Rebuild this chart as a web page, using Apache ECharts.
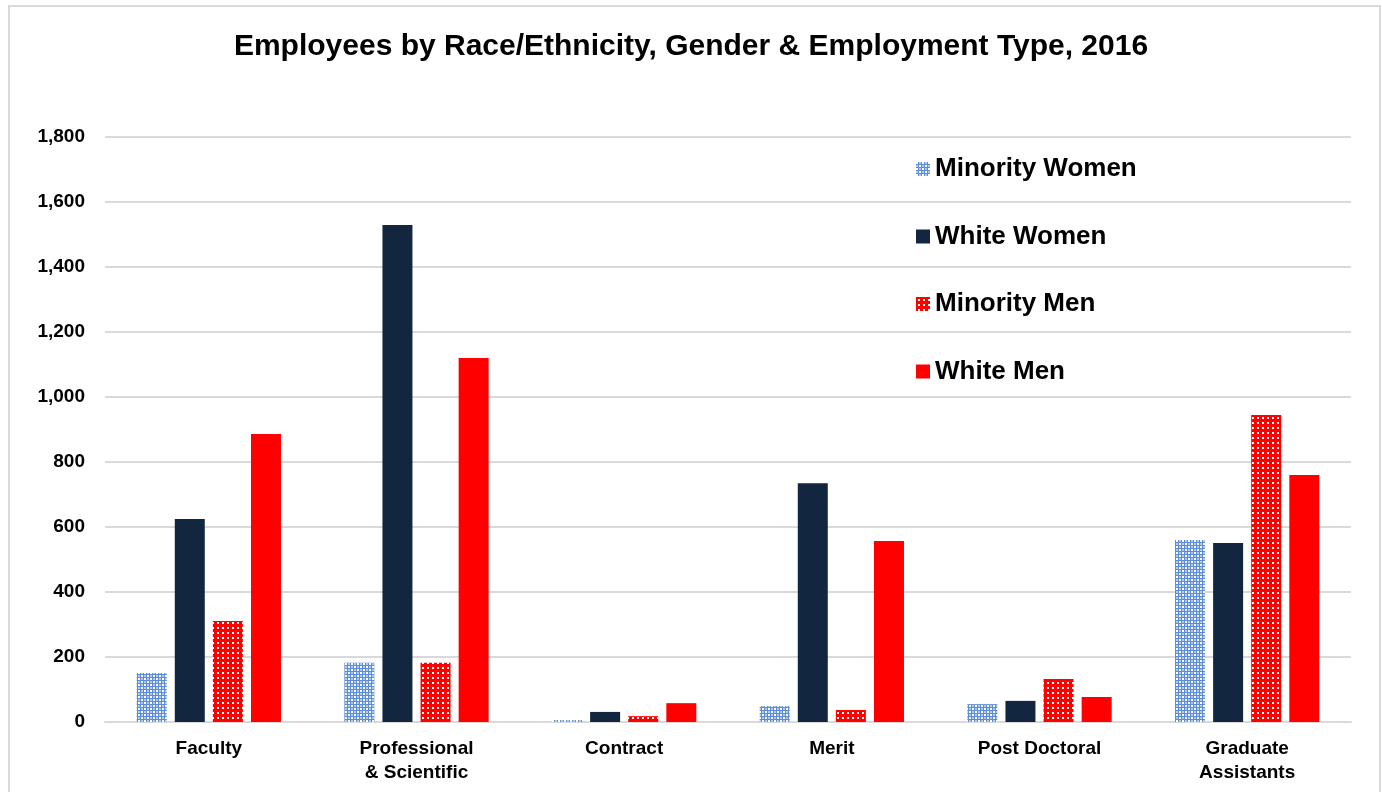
<!DOCTYPE html>
<html><head><meta charset="utf-8">
<script src="https://cdn.jsdelivr.net/npm/echarts@6/dist/echarts.min.js"></script>
<style>html,body{margin:0;padding:0;background:#fff}#c{width:1382px;height:792px}</style>
</head><body><div id="c"></div>
<script>
const categories = ['Faculty', 'Professional\n& Scientific', 'Contract', 'Merit', 'Post Doctoral', 'Graduate\nAssistants'];
const seriesNames = ['Minority Women', 'White Women', 'Minority Men', 'White Men'];
const minorityWomen = [151, 182, 6, 49, 55, 560];
const whiteWomen = [625, 1529, 31, 735, 65, 551];
const minorityMen = [311, 182, 18, 37, 132, 945];
const whiteMen = [886, 1120, 58, 557, 77, 760];
const yTicks = { min: 0, max: 1800, interval: 200 };

function makePattern(kind) {
  const c = document.createElement('canvas');
  if (kind === 'blue') {
    c.width = 6; c.height = 6;
    const g = c.getContext('2d');
    g.imageSmoothingEnabled = false;
    g.fillStyle = '#5b8ed6'; g.fillRect(0, 0, 6, 6);
    g.fillStyle = '#ffffff';
    g.fillRect(0, 0, 2, 2); g.fillRect(3, 3, 2, 2);
    g.fillStyle = '#b3c9ee';
    g.fillRect(3, 0, 2, 2); g.fillRect(0, 3, 2, 2);
  } else {
    c.width = 5; c.height = 5;
    const g = c.getContext('2d');
    g.fillStyle = '#ff0000'; g.fillRect(0, 0, 5, 5);
    g.fillStyle = '#ffffff'; g.fillRect(2, 2, 2, 2);
  }
  return { image: c, repeat: 'repeat' };
}

const colors = [makePattern('blue'), '#12263f', makePattern('red'), '#ff0000'];
const dataArr = [minorityWomen, whiteWomen, minorityMen, whiteMen];
const FONT = '"Liberation Sans", Arial, sans-serif';

const chart = echarts.init(document.getElementById('c'));
chart.setOption({
  animation: false,
  backgroundColor: '#fff',
  title: {
    text: 'Employees by Race/Ethnicity, Gender & Employment Type, 2016',
    left: 'center', top: 27,
    textStyle: { fontFamily: FONT, fontWeight: 'bold', fontSize: 30, color: '#000' }
  },
  graphic: [{
    type: 'rect', shape: { x: 9, y: 6, width: 1371, height: 800 },
    style: { fill: 'none', stroke: '#d9d9d9', lineWidth: 2 }, silent: true
  }],
  legend: {
    orient: 'vertical', left: 911, top: 151, itemGap: 41.5,
    itemWidth: 14, itemHeight: 14, icon: 'rect',
    textStyle: { fontFamily: FONT, fontWeight: 'bold', fontSize: 26, color: '#000' },
    data: seriesNames
  },
  grid: { left: 105, right: 31, top: 137, bottom: 70, containLabel: false },
  xAxis: {
    type: 'category', data: categories,
    axisLine: { lineStyle: { color: '#d9d9d9', width: 2 } },
    axisTick: { show: false },
    axisLabel: { fontFamily: FONT, fontWeight: 'bold', fontSize: 19, color: '#000', margin: 15, lineHeight: 24 }
  },
  yAxis: {
    type: 'value', min: yTicks.min, max: yTicks.max, interval: yTicks.interval,
    axisLine: { show: false }, axisTick: { show: false },
    splitLine: { lineStyle: { color: '#d9d9d9', width: 2 } },
    axisLabel: {
      fontFamily: FONT, fontWeight: 'bold', fontSize: 19, color: '#000', margin: 20,
      formatter: v => v.toLocaleString('en-US')
    }
  },
  series: seriesNames.map((n, i) => ({
    name: n, type: 'bar', data: dataArr[i],
    barWidth: 30, barGap: '27%',
    itemStyle: { color: colors[i] }
  }))
});
</script></body></html>
